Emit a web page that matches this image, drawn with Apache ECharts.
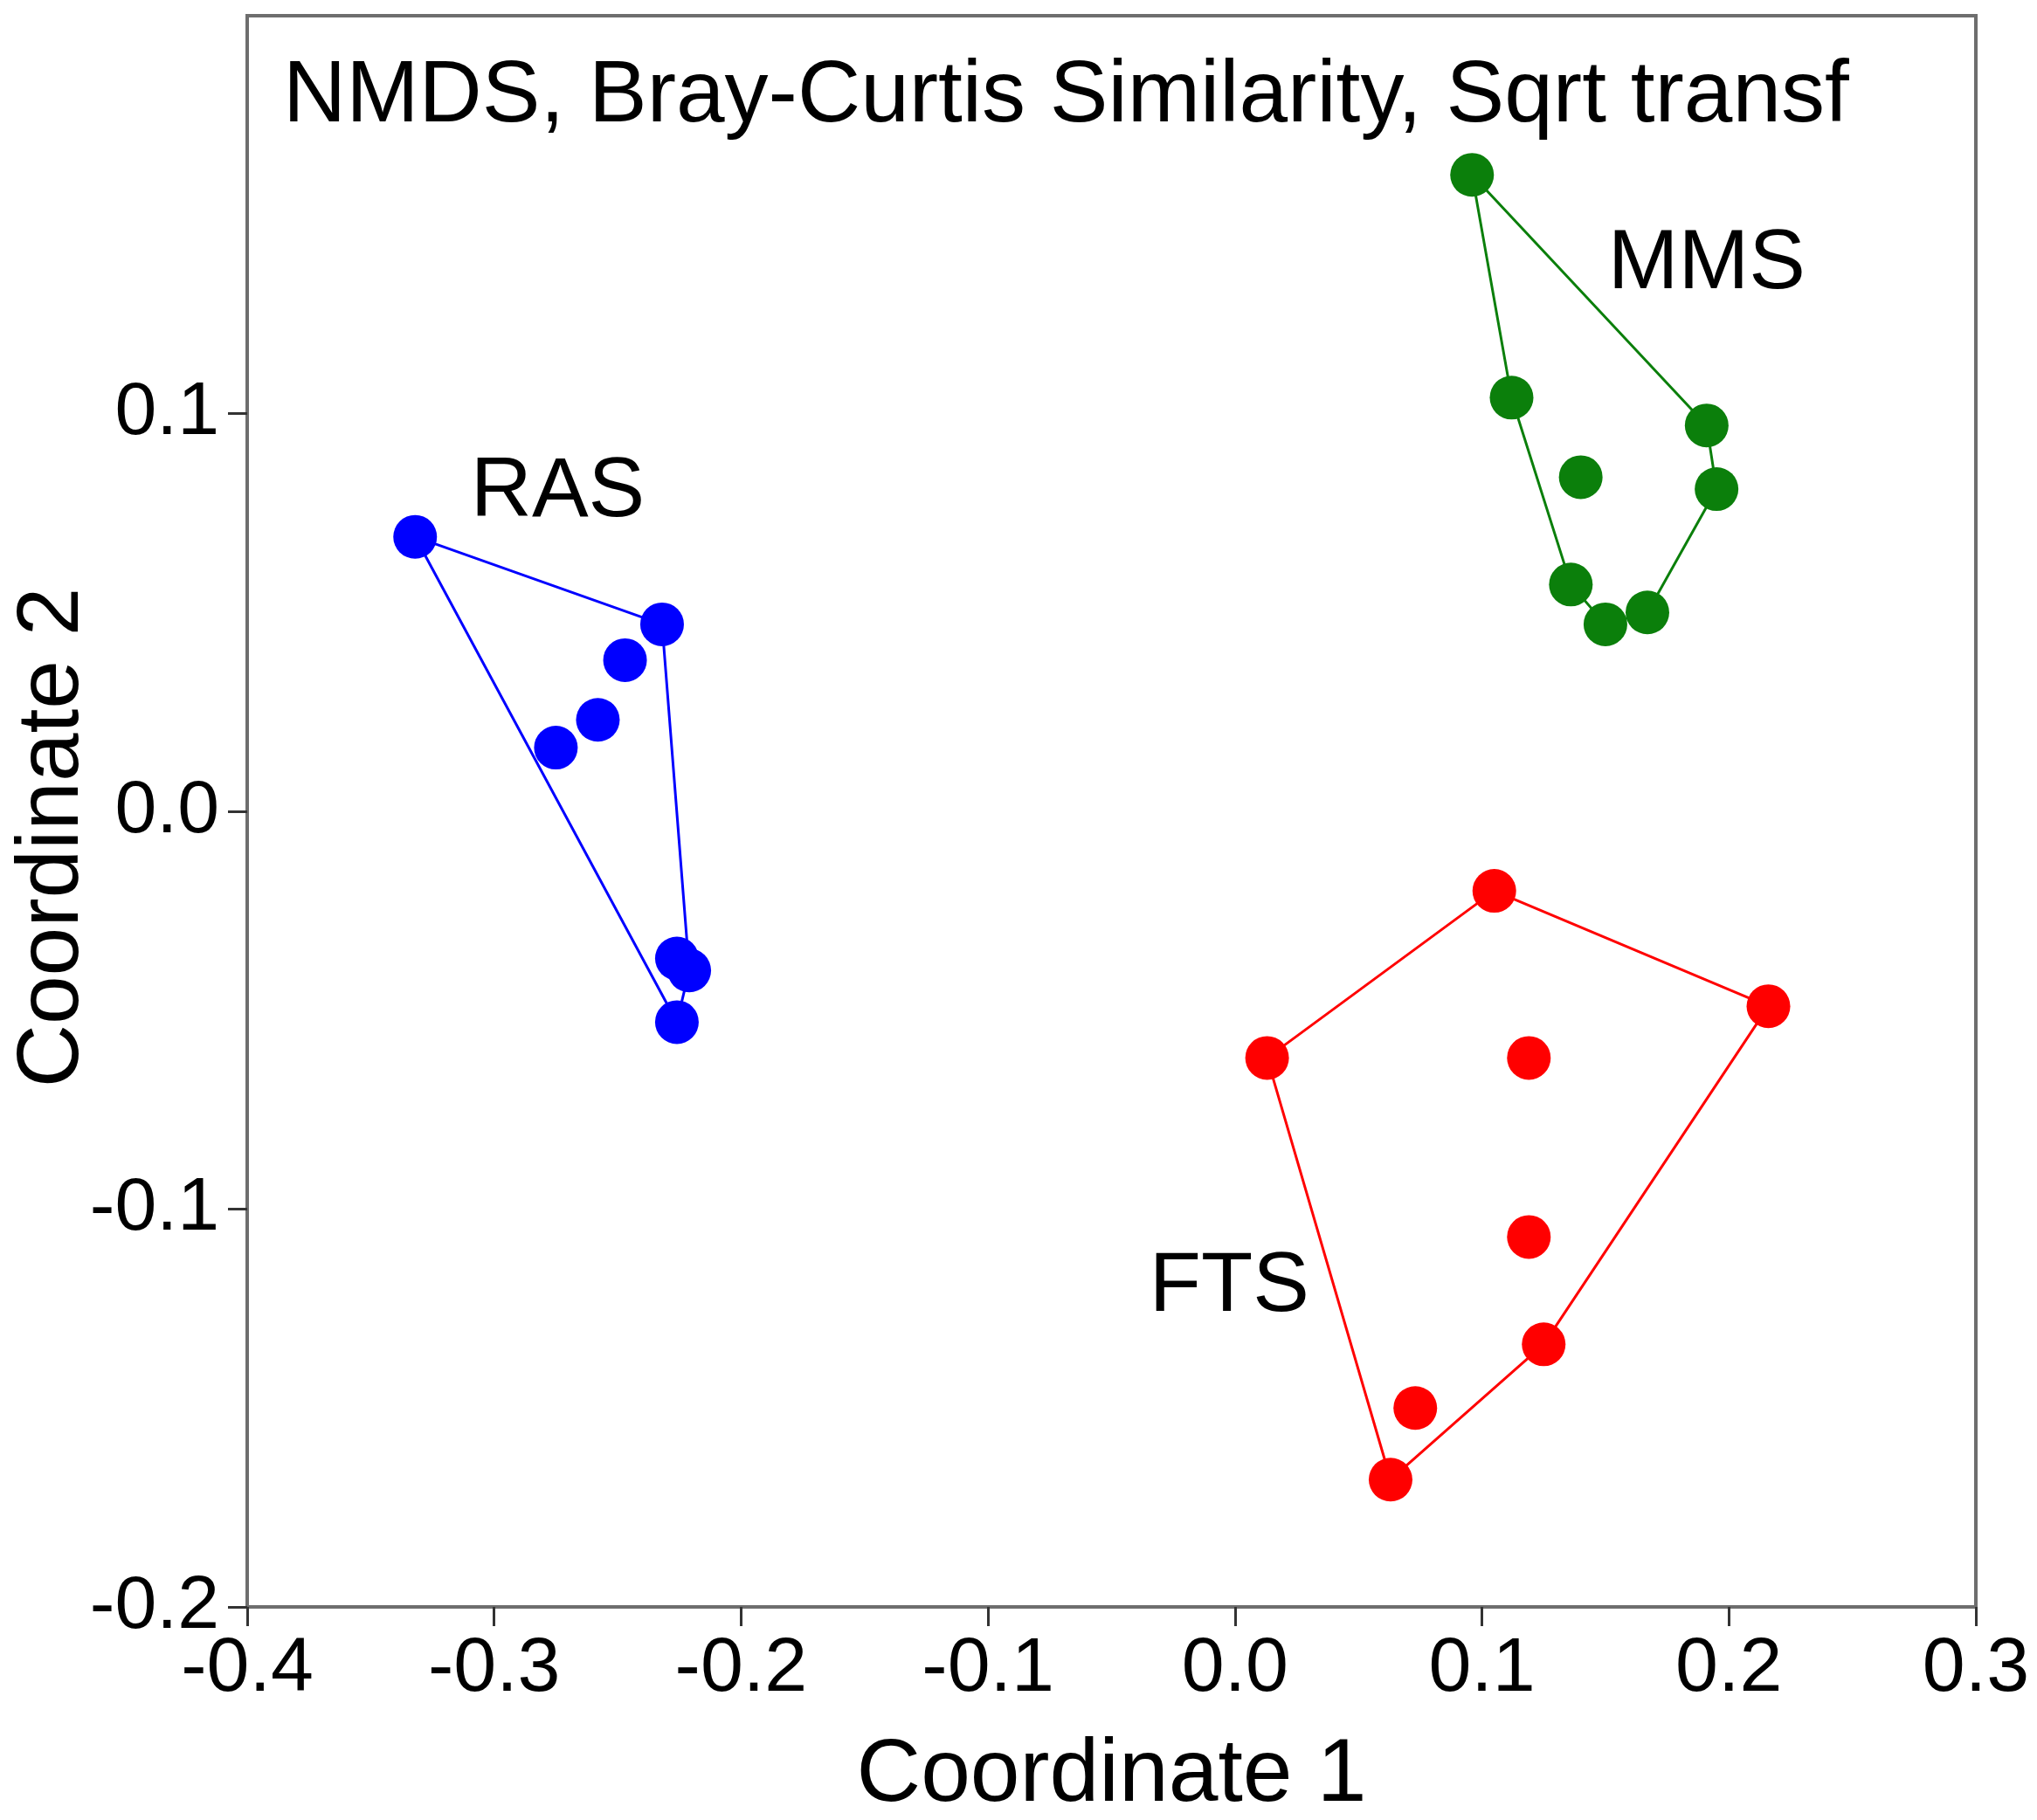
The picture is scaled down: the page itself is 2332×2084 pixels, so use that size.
<!DOCTYPE html>
<html>
<head>
<meta charset="utf-8">
<title>NMDS</title>
<script src="https://cdn.jsdelivr.net/npm/echarts@6/dist/echarts.min.js"></script>
<style>
  html, body { margin: 0; padding: 0; background: #fff; }
  #main { width: 2332px; height: 2084px; }
</style>
</head>
<body>
<div id="main"></div>
<script type="text/javascript">
// group names and colours
var groups = ['RAS', 'MMS', 'FTS'];
var colors = ['#0000ff', '#0b7f0b', '#ff0000'];

// sample coordinates (Coordinate 1, Coordinate 2)
var rasX = [-0.332, -0.232, -0.247, -0.258, -0.275, -0.226, -0.221, -0.226];
var rasY = [0.069, 0.047, 0.038, 0.023, 0.016, -0.037, -0.040, -0.053];
var mmsX = [0.096, 0.112, 0.191, 0.140, 0.195, 0.136, 0.150, 0.167];
var mmsY = [0.160, 0.104, 0.097, 0.084, 0.081, 0.057, 0.047, 0.050];
var ftsX = [0.105, 0.216, 0.013, 0.119, 0.119, 0.125, 0.073, 0.063];
var ftsY = [-0.020, -0.049, -0.062, -0.062, -0.107, -0.134, -0.150, -0.168];

// where the group names sit (data units, left edge / middle)
var labelX = [-0.3095, 0.151, -0.0347];
var labelY = [0.0801, 0.1373, -0.1198];

var xTicks = [-0.4, -0.3, -0.2, -0.1, 0.0, 0.1, 0.2, 0.3];
var yTicks = [-0.2, -0.1, 0.0, 0.1];

var font = 'Liberation Sans';

function pairs(xs, ys) {
  return xs.map(function (x, i) { return [x, ys[i]]; });
}

// convex hull (monotone chain), closed
function hull(pts) {
  var p = pts.slice().sort(function (a, b) { return a[0] - b[0] || a[1] - b[1]; });
  function cross(o, a, b) { return (a[0] - o[0]) * (b[1] - o[1]) - (a[1] - o[1]) * (b[0] - o[0]); }
  var lower = [], upper = [];
  p.forEach(function (pt) {
    while (lower.length >= 2 && cross(lower[lower.length - 2], lower[lower.length - 1], pt) <= 0) lower.pop();
    lower.push(pt);
  });
  p.slice().reverse().forEach(function (pt) {
    while (upper.length >= 2 && cross(upper[upper.length - 2], upper[upper.length - 1], pt) <= 0) upper.pop();
    upper.push(pt);
  });
  var h = lower.slice(0, -1).concat(upper.slice(0, -1));
  h.push(h[0]);
  return h;
}

var sets = [pairs(rasX, rasY), pairs(mmsX, mmsY), pairs(ftsX, ftsY)];

var series = [];
sets.forEach(function (pts, i) {
  series.push({
    type: 'line',
    data: hull(pts),
    symbol: 'none',
    lineStyle: { color: colors[i], width: 3 },
    z: 2,
    silent: true
  });
  series.push({
    type: 'scatter',
    name: groups[i],
    data: pts,
    symbolSize: 50,
    itemStyle: { color: colors[i], opacity: 1 },
    z: 3
  });
});

// group names
series.push({
  type: 'scatter',
  data: groups.map(function (g, i) { return { value: [labelX[i], labelY[i]], name: g }; }),
  symbolSize: 0,
  itemStyle: { opacity: 1 },
  label: {
    show: true,
    position: 'right',
    distance: 0,
    formatter: '{b}',
    color: '#000',
    opacity: 1,
    fontFamily: font,
    fontSize: 97
  },
  silent: true
});

var myChart = echarts.init(document.getElementById('main'));

var option = {
  animation: false,
  backgroundColor: '#fff',
  title: {
    text: 'NMDS, Bray-Curtis Similarity, Sqrt transf',
    left: 324,
    top: 61,
    padding: 0,
    textStyle: { fontFamily: font, fontSize: 100, fontWeight: 'normal', color: '#000' }
  },
  grid: {
    left: 283, right: 70, top: 18, bottom: 244,
    outerBoundsMode: 'none',
    containLabel: false,
    show: true,
    borderColor: '#6e6e6e',
    borderWidth: 4
  },
  xAxis: {
    type: 'value',
    min: -0.4, max: 0.3, interval: 0.1,
    name: 'Coordinate 1',
    nameLocation: 'middle',
    nameGap: 143,
    nameMoveOverlap: false,
    nameTextStyle: { fontFamily: font, fontSize: 102, color: '#000' },
    splitLine: { show: false },
    axisLine: { onZero: false, lineStyle: { color: '#6e6e6e', width: 4 } },
    axisTick: { length: 22, inside: false, lineStyle: { color: '#333', width: 3 }, customValues: xTicks },
    axisLabel: {
      customValues: xTicks,
      margin: 28,
      fontFamily: font, fontSize: 88, color: '#000',
      formatter: function (v) { return v.toFixed(1); }
    }
  },
  yAxis: {
    type: 'value',
    min: -0.2, max: 0.2, interval: 0.1,
    name: 'Coordinate 2',
    nameLocation: 'middle',
    nameGap: 172,
    nameMoveOverlap: false,
    nameTextStyle: { fontFamily: font, fontSize: 100, color: '#000', padding: [0, 0, 0, -60] },
    splitLine: { show: false },
    axisLine: { onZero: false, lineStyle: { color: '#6e6e6e', width: 4 } },
    axisTick: { length: 22, inside: false, lineStyle: { color: '#333', width: 3 }, customValues: yTicks },
    axisLabel: {
      customValues: yTicks,
      margin: 32,
      fontFamily: font, fontSize: 86, color: '#000',
      formatter: function (v) { return v.toFixed(1); }
    }
  },
  series: series
};

myChart.setOption(option);
</script>
</body>
</html>
